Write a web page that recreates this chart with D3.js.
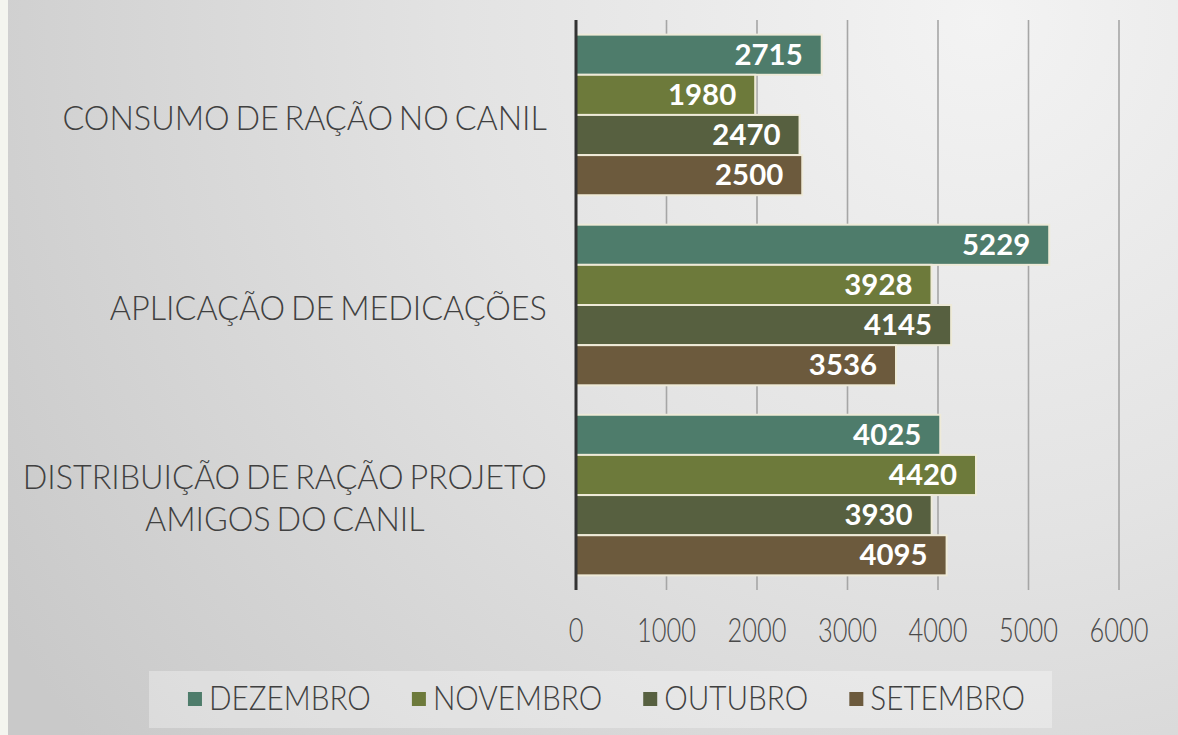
<!DOCTYPE html>
<html>
<head>
<meta charset="utf-8">
<script src="https://cdn.jsdelivr.net/npm/d3@7"></script>
<style>
  html, body { margin: 0; padding: 0; background: #f4f5ef; }
  svg { display: block; }
</style>
</head>
<body>
<svg id="chart" width="1178" height="735"></svg>
<script>
// ---------------- data ----------------
const categories = [
  "CONSUMO DE RAÇÃO NO CANIL",
  "APLICAÇÃO DE MEDICAÇÕES",
  "DISTRIBUIÇÃO DE RAÇÃO PROJETO AMIGOS DO CANIL"
];
const seriesNames = ["DEZEMBRO", "NOVEMBRO", "OUTUBRO", "SETEMBRO"];
const dezembro = [2715, 5229, 4025];
const novembro = [1980, 3928, 4420];
const outubro  = [2470, 4145, 3930];
const setembro = [2500, 3536, 4095];
const tickValues = [0, 1000, 2000, 3000, 4000, 5000, 6000];
const seriesColors = ["#4e7c6b", "#6d7a3b", "#576040", "#6c5a3d"];

const seriesValues = [dezembro, novembro, outubro, setembro];

// ---------------- setup ----------------
const W = 1178, H = 735;
const svg = d3.select("#chart");
const FONT = "Lato, 'Open Sans', sans-serif";

const defs = svg.append("defs");
const rg = defs.append("radialGradient")
  .attr("id", "bg").attr("gradientUnits", "userSpaceOnUse")
  .attr("cx", 980).attr("cy", 20).attr("r", 1150);
rg.append("stop").attr("offset", "0").attr("stop-color", "#f3f3f3");
rg.append("stop").attr("offset", "0.45").attr("stop-color", "#e3e3e3");
rg.append("stop").attr("offset", "1").attr("stop-color", "#c9c9c9");

svg.append("rect").attr("x", 0).attr("y", 0).attr("width", W).attr("height", H).attr("fill", "#f4f5ef");
svg.append("rect").attr("x", 8).attr("y", 0).attr("width", W - 8).attr("height", H).attr("fill", "url(#bg)");

// scales
const x = d3.scaleLinear().domain([0, 6000]).range([576, 1119]);
const y0 = d3.scaleBand().domain(categories).range([20, 590]).paddingInner(0.155).paddingOuter(0.077);
const y1 = d3.scaleBand().domain(seriesNames).range([0, y0.bandwidth()]).padding(0);

// helper for horizontally-scaled text
function stext(g, str, tx, ty, opts) {
  const t = g.append("text")
    .attr("transform", `translate(${tx},${ty}) scale(${opts.sx || 1},1)`)
    .attr("x", 0).attr("y", 0)
    .attr("font-family", FONT)
    .attr("font-size", opts.size)
    .attr("font-weight", opts.weight || 300)
    .attr("fill", opts.fill || "#404040")
    .attr("text-anchor", opts.anchor || "start")
    .attr("word-spacing", opts.ws || 0)
    .text(str);
  return t;
}

// gridlines
const grid = svg.append("g");
grid.selectAll("line").data(tickValues.filter(d => d > 0)).join("line")
  .attr("x1", d => x(d)).attr("x2", d => x(d))
  .attr("y1", 20).attr("y2", 590)
  .attr("stroke", "#a6a6a6").attr("stroke-width", 1.6);

// bars
const flat = [];
categories.forEach((c, ci) => {
  seriesNames.forEach((s, si) => flat.push({ c, s, si, v: seriesValues[si][ci] }));
});
const bars = svg.append("g");
bars.selectAll("rect").data(flat).join("rect")
  .attr("x", x(0))
  .attr("y", d => y0(d.c) + y1(d.s))
  .attr("width", d => x(d.v) - x(0))
  .attr("height", y1.bandwidth())
  .attr("fill", d => seriesColors[d.si])
  .attr("stroke", "#eeead8").attr("stroke-width", 2);

// value labels
const vl = svg.append("g");
flat.forEach(d => {
  stext(vl, d3.format("d")(d.v), x(d.v) - 19, y0(d.c) + y1(d.s) + y1.bandwidth() / 2 + 10,
    { size: 28, weight: 700, fill: "#ffffff", anchor: "end", sx: 1.05 });
});

// axis line
svg.append("line")
  .attr("x1", x(0)).attr("x2", x(0)).attr("y1", 20).attr("y2", 590)
  .attr("stroke", "#333333").attr("stroke-width", 3);

// tick labels
const tl = svg.append("g");
tickValues.forEach(v => {
  stext(tl, String(v), x(v), 642, { size: 33, anchor: "middle", sx: 0.77, fill: "#4a4a4a" });
});

// category labels (wrapped, right-aligned block, lines centered)
const CAT_SX = 0.98, CAT_SIZE = 33, CAT_MAX = 540, CAT_RIGHT = 547, LINE_H = 42, CAT_WS = -3;
const cl = svg.append("g");
function measure(str) {
  const t = stext(cl, str, 0, -100, { size: CAT_SIZE, sx: 1, ws: CAT_WS });
  const w = t.node().getComputedTextLength() * CAT_SX;
  t.remove();
  return w;
}
categories.forEach(c => {
  const words = c.split(" ");
  const lines = [];
  let cur = "";
  words.forEach(w => {
    const test = cur ? cur + " " + w : w;
    if (cur && measure(test) > CAT_MAX) { lines.push(cur); cur = w; }
    else cur = test;
  });
  if (cur) lines.push(cur);
  const widths = lines.map(measure);
  const bw = d3.max(widths);
  const cx = CAT_RIGHT - bw / 2;
  const cy = y0(c) + y0.bandwidth() / 2 + 3;
  const top = cy - (lines.length - 1) * LINE_H / 2;
  lines.forEach((ln, i) => {
    stext(cl, ln, cx, top + i * LINE_H + 12, { size: CAT_SIZE, anchor: "middle", sx: CAT_SX, fill: "#404040", ws: CAT_WS });
  });
});

// legend
const lg = svg.append("g");
lg.append("rect").attr("x", 149).attr("y", 671).attr("width", 903).attr("height", 57)
  .attr("fill", "#ffffff").attr("fill-opacity", 0.32);
const LEG_SX = 0.9, SQ = 14, GAP_T = 7, GAP_I = 41;
const legWidths = seriesNames.map(s => {
  const t = stext(lg, s, 0, -100, { size: 33, sx: 1 });
  const w = t.node().getComputedTextLength() * LEG_SX;
  t.remove();
  return w;
});
const total = d3.sum(legWidths) + seriesNames.length * (SQ + GAP_T) + (seriesNames.length - 1) * GAP_I;
let lx = 606.5 - total / 2;
seriesNames.forEach((s, i) => {
  lg.append("rect").attr("x", lx).attr("y", 692).attr("width", SQ).attr("height", SQ)
    .attr("fill", seriesColors[i]);
  stext(lg, s, lx + SQ + GAP_T, 710, { size: 33, sx: LEG_SX, fill: "#404040" });
  lx += SQ + GAP_T + legWidths[i] + GAP_I;
});
</script>
</body>
</html>
